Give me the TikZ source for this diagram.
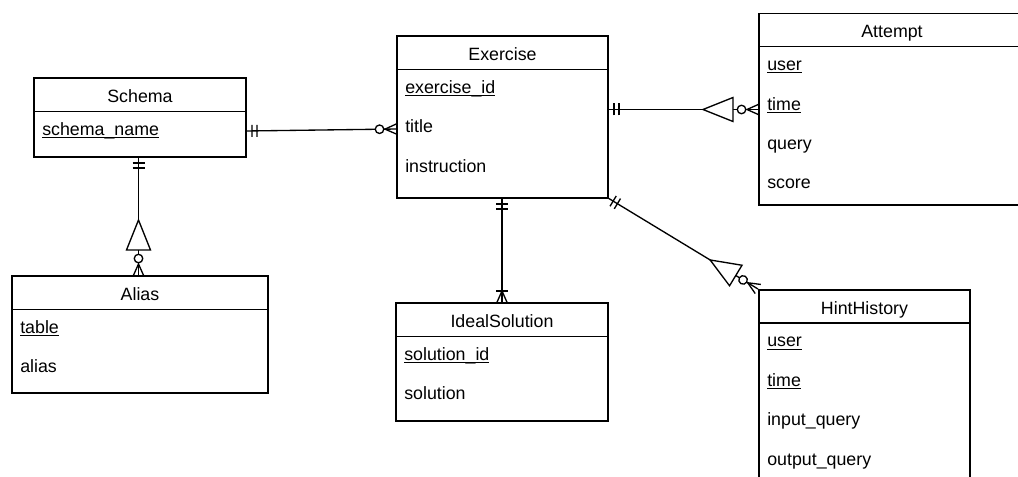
\documentclass[tikz,border=0pt]{standalone}
\usepackage{fontspec}
\setmainfont{Liberation Sans}
\usetikzlibrary{calc,decorations.markings}
\newcommand{\pkey}[1]{\setbox0\hbox{#1}\rlap{\rule[-2pt]{\wd0}{0.75pt}}\box0}
\tikzset{
  tbl/.style={draw, line width=1pt, fill=white, inner sep=0pt, outer sep=0pt, anchor=north west},
  hdr/.style={line width=1pt},
  ttl/.style={anchor=base, inner sep=0pt, font=\fontsize{13.35}{16}\selectfont},
  fld/.style={anchor=base west, inner sep=0pt, font=\fontsize{13.35}{16}\selectfont},
  rel/.style={line width=1pt},
  mandonestart/.style={postaction={decorate, decoration={markings,
    mark=at position 4.5pt with {\draw[line width=1pt] (0pt,-4.5pt) -- (0pt,4.5pt);},
    mark=at position 8.25pt with {\draw[line width=1pt] (0pt,-4.5pt) -- (0pt,4.5pt);}}}},
  zeromanyend/.style={postaction={decorate, decoration={markings,
    mark=at position -9pt with {\draw[line width=1pt] (9pt,4pt) -- (0pt,0pt) -- (9pt,-4pt);},
    mark=at position -13.1pt with {\draw[line width=1pt, fill=white] (0pt,0pt) circle (3.2pt);}}}},
  triend/.style={postaction={decorate, decoration={markings,
    mark=at position -19.5pt with {\draw[line width=1pt, fill=white] (0pt,9pt) -- (0pt,-9pt) -- (-22.5pt,0pt) -- cycle;}}}},
  onemanyend/.style={postaction={decorate, decoration={markings,
    mark=at position -9pt with {\draw[line width=1pt] (9pt,4pt) -- (0pt,0pt) -- (9pt,-4pt); \draw[line width=1pt] (0pt,-4.5pt) -- (0pt,4.5pt);}}}}
}
\begin{document}
\begin{tikzpicture}[x=0.75pt, y=-0.75pt]
\useasboundingbox (0,0) rectangle (1018,477);
\clip (0,0) rectangle (1018,477);
\fill[white] (0,0) rectangle (1018,477);

% Schema
\node[tbl, minimum width=159pt, minimum height=59.25pt] (schema) at (34,78) {};
\draw[hdr] ($(schema.north west)+(0,33.5)$) -- ($(schema.north east)+(0,33.5)$);
\node[ttl] (schemaT) at ($(schema.north)+(0,24.3)$) {Schema};
\node[fld] (schemaA) at ($(schema.north west)+(8,57.5)$) {\pkey{schema\_name}};

% Exercise
\node[tbl, minimum width=158.25pt, minimum height=121.5pt] (exercise) at (397,36) {};
\draw[hdr] ($(exercise.north west)+(0,33.5)$) -- ($(exercise.north east)+(0,33.5)$);
\node[ttl] (exerciseT) at ($(exercise.north)+(0,24.3)$) {Exercise};
\node[fld] (exerciseA) at ($(exercise.north west)+(8,57.5)$) {\pkey{exercise\_id}};
\node[fld] (exerciseB) at ($(exercise.north west)+(8,96.9)$) {title};
\node[fld] (exerciseC) at ($(exercise.north west)+(8,136.3)$) {instruction};

% Attempt
\node[tbl, minimum width=203.25pt, minimum height=143.8pt] (attempt) at (759,13.3) {};
\draw[hdr] ($(attempt.north west)+(0,33.5)$) -- ($(attempt.north east)+(0,33.5)$);
\node[ttl] (attemptT) at ($(attempt.north west)+(133,24.3)$) {Attempt};
\node[fld] (attemptA) at ($(attempt.north west)+(8,57.5)$) {\pkey{user}};
\node[fld] (attemptB) at ($(attempt.north west)+(8,96.9)$) {\pkey{time}};
\node[fld] (attemptC) at ($(attempt.north west)+(8,136.3)$) {query};
\node[fld] (attemptD) at ($(attempt.north west)+(8,175.7)$) {score};

% HintHistory
\node[tbl, minimum width=158.25pt, minimum height=157.5pt] (hint) at (759,290) {};
\draw[hdr] ($(hint.north west)+(0,33)$) -- ($(hint.north east)+(0,33)$);
\node[ttl] (hintT) at ($(hint.north)+(0,24.3)$) {HintHistory};
\node[fld] (hintA) at ($(hint.north west)+(8,57)$) {\pkey{user}};
\node[fld] (hintB) at ($(hint.north west)+(8,96.4)$) {\pkey{time}};
\node[fld] (hintC) at ($(hint.north west)+(8,135.8)$) {input\_query};
\node[fld] (hintD) at ($(hint.north west)+(8,175.2)$) {output\_query};

% IdealSolution
\node[tbl, minimum width=159pt, minimum height=88.5pt] (ideal) at (396,303) {};
\draw[hdr] ($(ideal.north west)+(0,33.5)$) -- ($(ideal.north east)+(0,33.5)$);
\node[ttl] (idealT) at ($(ideal.north)+(0,24.3)$) {IdealSolution};
\node[fld] (idealA) at ($(ideal.north west)+(8,57.5)$) {\pkey{solution\_id}};
\node[fld] (idealB) at ($(ideal.north west)+(8,96.9)$) {solution};

% Alias
\node[tbl, minimum width=192pt, minimum height=87.75pt] (alias) at (12,276) {};
\draw[hdr] ($(alias.north west)+(0,33.5)$) -- ($(alias.north east)+(0,33.5)$);
\node[ttl] (aliasT) at ($(alias.north)+(0,24.3)$) {Alias};
\node[fld] (aliasA) at ($(alias.north west)+(8,57.5)$) {\pkey{table}};
\node[fld] (aliasB) at ($(alias.north west)+(8,96.9)$) {alias};

% Relationships
\coordinate (c1s) at ($(schema.north east)+(0,53)$);
\coordinate (c1e) at ($(exercise.north west)+(0,93)$);
\draw[rel, mandonestart, zeromanyend] (c1s) -- (c1e);

\coordinate (c2s) at ($(schema.south)+(-1.5,0)$);
\draw[rel, mandonestart, triend, zeromanyend] (c2s) -- (c2s |- alias.north);

\coordinate (c3s) at ($(exercise.north east)+(0,73.5)$);
\draw[rel, mandonestart, triend, zeromanyend] (c3s) -- (c3s -| attempt.west);

\coordinate (c4e) at ($(hint.north west)+(-1,-1)$);
\draw[rel, mandonestart, triend, zeromanyend] (exercise.south east) -- (c4e);

\coordinate (c5s) at ($(exercise.south)+(-0.5,0)$);
\draw[rel, mandonestart, onemanyend] (c5s) -- (c5s |- ideal.north);
\end{tikzpicture}
\end{document}
